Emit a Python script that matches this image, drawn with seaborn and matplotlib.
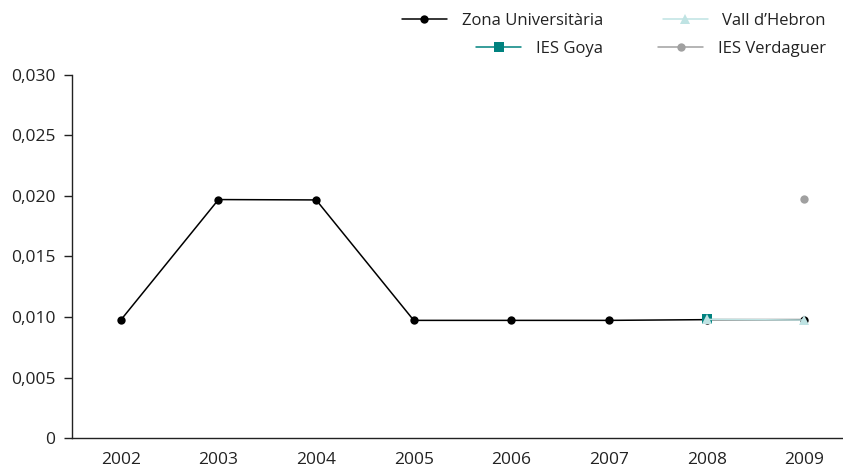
import pandas as pd
import numpy as np
import matplotlib
matplotlib.use("Agg")
import matplotlib.pyplot as plt
import seaborn as sns
from matplotlib.ticker import FuncFormatter

# --- data ---
zona_years = [2002, 2003, 2004, 2005, 2006, 2007, 2008, 2009]
zona_values = [0.00975, 0.01970, 0.01967, 0.00972, 0.00972, 0.00972, 0.00978, 0.00978]
goya_years = [2008]
goya_values = [0.00985]
vall_years = [2008, 2009]
vall_values = [0.00980, 0.00975]
verdaguer_years = [2009]
verdaguer_values = [0.01975]

series = [
    ("Zona Universitària", zona_years, zona_values, "#000000", "o", 6),
    ("IES Goya", goya_years, goya_values, "#00827F", "s", 6.5),
    ("Vall d\u2019Hebron", vall_years, vall_values, "#BFE3E3", "^", 7),
    ("IES Verdaguer", verdaguer_years, verdaguer_values, "#A0A0A0", "o", 6),
]

sns.set_style("white")
plt.rcParams['font.family'] = ['Open Sans', 'DejaVu Sans']
plt.rcParams['text.color'] = '#222222'
plt.rcParams['xtick.color'] = '#222222'
plt.rcParams['ytick.color'] = '#222222'

fig = plt.figure(figsize=(8.43, 4.71), dpi=100)
ax = fig.add_axes([0.0854, 0.070, 0.914, 0.771])

for name, yrs, vals, color, marker, ms in series:
    df = pd.DataFrame({"year": yrs, "value": vals})
    sns.lineplot(data=df, x="year", y="value", ax=ax, color=color, marker=marker,
                 markersize=ms, markeredgewidth=0, linewidth=1.1, label=name)

ax.set_xlim(2001.5, 2009.39)
ax.set_ylim(0, 0.030)
ax.set_xticks(zona_years)
ax.set_yticks(np.arange(0, 0.0301, 0.005))
ax.yaxis.set_major_formatter(FuncFormatter(
    lambda v, p: "0" if abs(v) < 1e-12 else f"{v:.3f}".replace(".", ",")))
ax.set_xlabel("")
ax.set_ylabel("")
ax.tick_params(axis='y', length=6, width=1, color='#222222', labelsize=12.5, pad=6, left=True)
ax.tick_params(axis='x', length=0, labelsize=12.5, pad=10)
for s in ["top", "right"]:
    ax.spines[s].set_visible(False)
for s in ["left", "bottom"]:
    ax.spines[s].set_color('#222222')
    ax.spines[s].set_linewidth(1)

h, l = ax.get_legend_handles_labels()
leg = ax.legend(h, l, ncol=2, loc="upper right", bbox_to_anchor=(826 / 843, 1 - 13 / 471),
                bbox_transform=fig.transFigure, frameon=False, fontsize=12,
                handlelength=2.7, handletextpad=0.9, columnspacing=3.3,
                labelspacing=0.72, borderpad=0, borderaxespad=0)
# right-align the entries inside each legend column, like the reference
for col in leg._legend_handle_box.get_children():
    col.align = "right"

plt.savefig("out.png", dpi=100)
plt.close()
